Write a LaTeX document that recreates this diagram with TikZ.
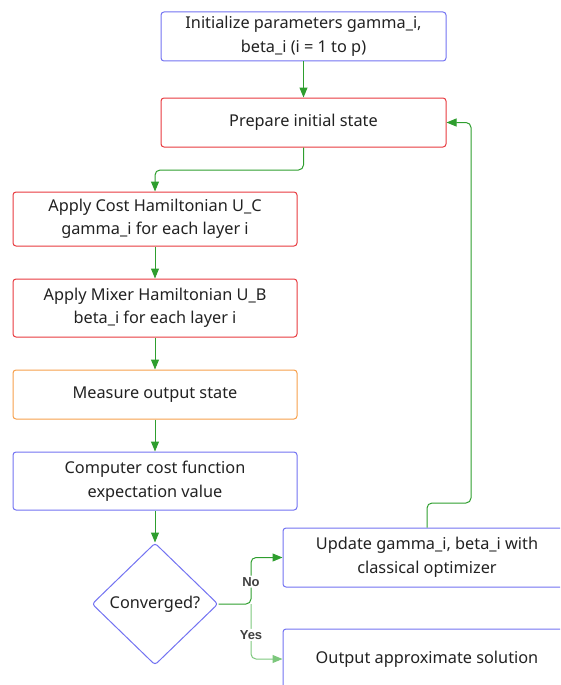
\documentclass[tikz,border=0pt]{standalone}
\usepackage{fontspec}
\setmainfont{Noto Sans}
\newfontfamily\lblfont{Liberation Sans}
\usetikzlibrary{shapes.geometric,arrows.meta}
\definecolor{cblue}{HTML}{7373F2}
\definecolor{cred}{HTML}{E83A3F}
\definecolor{corange}{HTML}{F7A04C}
\definecolor{cgreen}{HTML}{2E9E2E}
\definecolor{cgreenl}{HTML}{7CC77C}
\definecolor{ctext}{HTML}{222222}
\tikzset{
  box/.style={draw, line width=1pt, rounded corners=3pt, fill=white, align=center,
    text=ctext, font=\fontsize{16.3}{23.5}\selectfont, inner sep=0pt},
  bluebox/.style={box, draw=cblue},
  redbox/.style={box, draw=cred},
  orangebox/.style={box, draw=corange},
  flow/.style={draw=cgreen, line width=1pt, rounded corners=5pt, -{Triangle[length=10pt,width=8pt]}},
  lbl/.style={fill=white, text=black!75, font=\lblfont\bfseries\fontsize{13}{14}\selectfont, inner sep=1.5pt}
}
\begin{document}
\begin{tikzpicture}[x=1pt,y=-1pt]
\useasboundingbox (0,0) rectangle (560,685);
\clip (0,0) rectangle (560,685);
\node[bluebox, minimum width=285pt, minimum height=49pt] (init) at (303.5,36.5) {Initialize parameters gamma\_i,\\beta\_i (i = 1 to p)};
\node[redbox, minimum width=285pt, minimum height=49pt] (prep) at (303.5,122.5) {Prepare initial state};
\node[redbox, minimum width=284pt, minimum height=54pt] (cost) at (155,219) {Apply Cost Hamiltonian U\_C\\gamma\_i for each layer i};
\node[redbox, minimum width=284pt, minimum height=58pt] (mix) at (155,308) {Apply Mixer Hamiltonian U\_B\\beta\_i for each layer i};
\node[orangebox, minimum width=284pt, minimum height=49pt] (meas) at (155,394.5) {Measure output state};
\node[bluebox, minimum width=284pt, minimum height=58pt] (comp) at (155,481) {Computer cost function\\expectation value};
\node[diamond, draw=cblue, line width=1pt, fill=white, text=ctext, font=\fontsize{16.3}{23.5}\selectfont,
  minimum width=126pt, minimum height=122pt, inner sep=0pt, rounded corners=3pt] (conv) at (155,604) {Converged?};
\node[bluebox, minimum width=288pt, minimum height=59pt] (upd) at (427,557.5) {Update gamma\_i, beta\_i with\\classical optimizer};
\node[bluebox, minimum width=288pt, minimum height=60pt] (out) at (427,659) {Output approximate solution};

\draw[flow] (init.south) -- (prep.north);
\draw[flow] (prep.south) |- (229,170) -| (cost.north);
\draw[flow] (cost.south) -- (mix.north);
\draw[flow] (mix.south) -- (meas.north);
\draw[flow] (meas.south) -- (comp.north);
\draw[flow] (comp.south) -- (conv.north);
\coordinate (br) at (251,604);
\draw[flow] (conv.east) -- (br) |- (upd.west) node[lbl, pos=0.24] {No};
\draw[flow, draw=cgreenl] (br) |- (out.west) node[lbl, pos=0.28] {Yes};
\draw[flow] (upd.north) |- (448,503) -| (471,300) |- (prep.east);
\end{tikzpicture}
\end{document}
